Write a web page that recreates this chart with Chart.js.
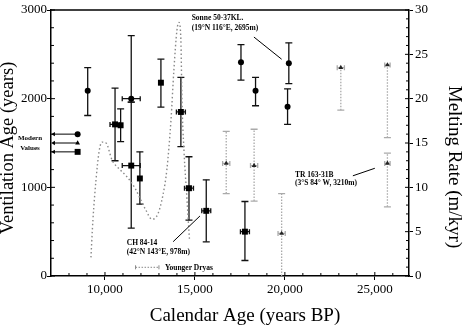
<!DOCTYPE html>
<html>
<head>
<meta charset="utf-8">
<script src="https://cdn.jsdelivr.net/npm/chart.js@4/dist/chart.umd.min.js"></script>
<style>
html, body { margin: 0; padding: 0; background: #fff; }
</style>
</head>
<body>
<canvas id="myChart" width="464" height="327"></canvas>
<script>
// Sonne 50-37KL (circles)
var sonneAge = [9040, 11460, 17560, 18370, 20220, 20150];
var sonneVent = [2090, 2000, 2410, 2090, 2400, 1910];
var sonneLo = [1810, 1960, 2210, 1920, 2170, 1710];
var sonneHi = [2350, 2710, 2610, 2240, 2630, 2110];
var sonneAgeErr = [0, 500, 0, 0, 0, 0];

// CH 84-14 (squares)
var chAge = [10560, 10870, 11460, 11940, 13110, 14220, 14670, 15630, 17780];
var chVent = [1710, 1700, 1245, 1100, 2180, 1850, 990, 735, 500];
var chLo = [1300, 1515, 540, 810, 1905, 1460, 630, 385, 175];
var chHi = [2120, 1885, 1960, 1400, 2445, 2240, 1345, 1085, 840];
var chAgeErr = [280, 0, 500, 0, 0, 250, 250, 250, 250];

// TR 163-31B (triangles)
var trAge = [16740, 18290, 19820, 23110, 25700, 25700];
var trVent = [1270, 1245, 480, 2350, 2380, 1270];
var trLo = [930, 845, 0, 1870, 1560, 780];
var trHi = [1630, 1655, 930, 2350, 2380, 1385];
var trAgeErr = [200, 200, 200, 200, 150, 150];

// melting rate (m/kyr)
var meltAge = [9220, 9330, 9500, 9670, 9830, 10060, 10390, 10830, 11220, 11670, 11940, 12280, 12610, 12940, 13220, 13440, 13670, 13830, 14000, 14110, 14220, 14280, 14390, 14560, 14700];
var meltRate = [2.1, 6.3, 10.8, 14.0, 15.1, 15.0, 13.1, 12.0, 11.2, 9.9, 8.8, 7.4, 6.4, 7.0, 9.1, 12.0, 17.6, 23.2, 27.7, 28.6, 26.6, 19.8, 14.2, 8.6, 4.0];

// modern values: circle, triangle, square
var modernVent = [1600, 1500, 1400];
var modernAge = 8480;
var arrowTipAge = 7150;

var youngerDryas = [11700, 13000];

var xTicks = [10000, 15000, 20000, 25000];

function pts(xs, ys) {
    var out = [];
    for (var i = 0; i < xs.length; i++) out.push({x: xs[i], y: ys[i]});
    return out;
}

function drawBars(chart, xs, ys, lo, hi, xe, color, dash) {
    var ctx = chart.ctx;
    var xS = chart.scales.x, yS = chart.scales.y;
    ctx.save();
    ctx.strokeStyle = color;
    ctx.lineWidth = 1.3;
    for (var i = 0; i < xs.length; i++) {
        var px = xS.getPixelForValue(xs[i]);
        var py = yS.getPixelForValue(ys[i]);
        var pl = yS.getPixelForValue(lo[i]);
        var ph = yS.getPixelForValue(hi[i]);
        ctx.setLineDash(dash);
        ctx.beginPath();
        ctx.moveTo(px, pl);
        ctx.lineTo(px, ph);
        ctx.stroke();
        ctx.setLineDash([]);
        ctx.beginPath();
        if (lo[i] < ys[i] && lo[i] > 0) { ctx.moveTo(px - 3.5, pl); ctx.lineTo(px + 3.5, pl); }
        if (hi[i] > ys[i]) { ctx.moveTo(px - 3.5, ph); ctx.lineTo(px + 3.5, ph); }
        if (xe[i] > 0) {
            var a = xS.getPixelForValue(xs[i] - xe[i]);
            var b = xS.getPixelForValue(xs[i] + xe[i]);
            ctx.moveTo(a, py); ctx.lineTo(b, py);
            ctx.moveTo(a, py - 2.5); ctx.lineTo(a, py + 2.5);
            ctx.moveTo(b, py - 2.5); ctx.lineTo(b, py + 2.5);
        }
        ctx.stroke();
    }
    ctx.restore();
}

function line(ctx, x1, y1, x2, y2) {
    ctx.beginPath();
    ctx.moveTo(x1, y1);
    ctx.lineTo(x2, y2);
    ctx.stroke();
}

function vText(ctx, txt, x, y, rot) {
    ctx.save();
    ctx.translate(x, y);
    ctx.rotate(rot);
    ctx.fillText(txt, 0, 0);
    ctx.restore();
}

var extras = {
    id: 'extras',
    beforeDatasetsDraw: function(chart) {
        drawBars(chart, trAge, trVent, trLo, trHi, trAgeErr, '#aaa', [1.5, 1.5]);
        drawBars(chart, sonneAge, sonneVent, sonneLo, sonneHi, sonneAgeErr, '#111', []);
        drawBars(chart, chAge, chVent, chLo, chHi, chAgeErr, '#111', []);
    },
    afterDraw: function(chart) {
        var ctx = chart.ctx, a = chart.chartArea;
        var xS = chart.scales.x, yS = chart.scales.y, y2 = chart.scales.y2;
        ctx.save();
        ctx.strokeStyle = '#000';
        ctx.lineWidth = 1.5;
        line(ctx, a.left, a.top, a.right, a.top);
        // minor ticks
        ctx.lineWidth = 1;
        var v;
        for (v = 0; v <= 3000; v += 200) {
            var p = yS.getPixelForValue(v);
            line(ctx, a.left, p, a.left + (v % 1000 ? 3 : 4), p);
        }
        for (v = 0; v <= 30; v += 1) {
            var q = y2.getPixelForValue(v);
            line(ctx, a.right - (v % 5 ? 3 : 4), q, a.right, q);
        }
        for (v = 8000; v <= 26000; v += 1000) {
            var r = xS.getPixelForValue(v);
            line(ctx, r, a.bottom, r, a.bottom - (v % 5000 ? 3 : 4));
        }
        // axis titles
        ctx.fillStyle = '#000';
        ctx.textAlign = 'center';
        ctx.textBaseline = 'middle';
        ctx.font = '19px "Liberation Serif"';
        ctx.fillText('Calendar Age (years BP)', 245, 316);
        vText(ctx, 'Melting Rate (m/kyr)', 454, 167, Math.PI / 2);
        ctx.font = '18.5px "Liberation Serif"';
        vText(ctx, 'Ventilation Age (years)', 8, 148, -Math.PI / 2);
        // annotations
        ctx.font = 'bold 7.5px "Liberation Serif"';
        ctx.textAlign = 'left';
        ctx.fillText('Sonne 50-37KL.', xS.getPixelForValue(14820), yS.getPixelForValue(2910));
        ctx.fillText('(19\u00b0N 116\u00b0E, 2695m)', xS.getPixelForValue(14820), yS.getPixelForValue(2795));
        ctx.fillText('TR 163-31B', xS.getPixelForValue(20560), yS.getPixelForValue(1140));
        ctx.fillText('(3\u00b0S 84\u00b0 W, 3210m)', xS.getPixelForValue(20560), yS.getPixelForValue(1045));
        ctx.fillText('CH 84-14', xS.getPixelForValue(11210), yS.getPixelForValue(370));
        ctx.fillText('(42\u00b0N 143\u00b0E, 978m)', xS.getPixelForValue(11210), yS.getPixelForValue(268));
        ctx.fillText('Younger Dryas', xS.getPixelForValue(13330), yS.getPixelForValue(92));
        ctx.textAlign = 'center';
        ctx.font = 'bold 7px "Liberation Serif"';
        ctx.fillText('Modern', a.left - 21, yS.getPixelForValue(1555));
        ctx.fillText('Values', a.left - 21, yS.getPixelForValue(1445));
        ctx.lineWidth = 1;
        line(ctx, xS.getPixelForValue(18280), yS.getPixelForValue(2695), xS.getPixelForValue(19820), yS.getPixelForValue(2445));
        line(ctx, xS.getPixelForValue(23780), yS.getPixelForValue(1130), xS.getPixelForValue(25000), yS.getPixelForValue(1215));
        line(ctx, xS.getPixelForValue(13790), yS.getPixelForValue(387), xS.getPixelForValue(15280), yS.getPixelForValue(677));
        // Younger Dryas bar
        ctx.strokeStyle = '#888';
        var ya = xS.getPixelForValue(youngerDryas[0]), yb = xS.getPixelForValue(youngerDryas[1]);
        var yy = yS.getPixelForValue(98);
        ctx.setLineDash([1.5, 1.5]);
        line(ctx, ya, yy, yb, yy);
        ctx.setLineDash([]);
        line(ctx, ya, yy - 2, ya, yy + 2);
        line(ctx, yb, yy - 2, yb, yy + 2);
        ctx.restore();
    }
};

function modernSet(i, style, r) {
    return {
        type: 'line',
        data: [{x: arrowTipAge, y: modernVent[i]}, {x: modernAge, y: modernVent[i]}],
        borderColor: '#000',
        borderWidth: 1,
        backgroundColor: '#000',
        pointStyle: ['triangle', style],
        rotation: [-90, 0],
        pointRadius: [2.5, r],
        pointBorderWidth: 0
    };
}

new Chart("myChart", {
    type: 'scatter',
    data: {
        datasets: [{
            type: 'line',
            yAxisID: 'y2',
            data: pts(meltAge, meltRate),
            borderColor: '#888',
            borderWidth: 1.4,
            borderDash: [1.5, 2.5],
            pointRadius: 0,
            cubicInterpolationMode: 'monotone',
            order: 10
        }, {
            data: pts(sonneAge, sonneVent),
            pointStyle: 'circle',
            pointRadius: 3,
            backgroundColor: '#000',
            borderColor: '#000',
            borderWidth: 0
        }, {
            data: pts(chAge, chVent),
            pointStyle: 'rect',
            pointRadius: 4.2,
            backgroundColor: '#000',
            borderColor: '#000',
            borderWidth: 0
        }, {
            data: pts(trAge, trVent),
            pointStyle: 'triangle',
            pointRadius: 2.8,
            backgroundColor: '#222',
            borderColor: '#222',
            borderWidth: 0
        },
        modernSet(0, 'circle', 3),
        modernSet(1, 'triangle', 2.8),
        modernSet(2, 'rect', 4.2)]
    },
    plugins: [extras],
    options: {
        responsive: false,
        animation: false,
        layout: { padding: { top: 10, left: 0, right: 0, bottom: 0 } },
        plugins: { legend: { display: false }, tooltip: { enabled: false } },
        scales: {
            x: {
                type: 'linear',
                min: 7000,
                max: 26900,
                afterFit: function(s) { s.height = 51; },
                afterBuildTicks: function(s) { s.ticks = xTicks.map(function(v) { return {value: v}; }); },
                grid: { drawOnChartArea: false, tickLength: 4, color: '#000' },
                border: { color: '#000', width: 1.5 },
                ticks: { color: '#000', padding: 2, font: { family: 'Liberation Serif', size: 13 }, maxRotation: 0 }
            },
            y: {
                position: 'left',
                min: 0,
                max: 3000,
                afterFit: function(s) { s.width = 51; },
                grid: { drawOnChartArea: false, tickLength: 4, color: '#000' },
                border: { color: '#000', width: 1.5 },
                ticks: { stepSize: 1000, color: '#000', padding: 0, font: { family: 'Liberation Serif', size: 13 }, callback: function(v) { return v; } }
            },
            y2: {
                position: 'right',
                min: 0,
                max: 30,
                afterFit: function(s) { s.width = 55; },
                grid: { drawOnChartArea: false, tickLength: 4, color: '#000' },
                border: { color: '#000', width: 1.5 },
                ticks: { stepSize: 5, color: '#000', padding: 2, font: { family: 'Liberation Serif', size: 13 } }
            }
        }
    }
});
</script>
</body>
</html>
